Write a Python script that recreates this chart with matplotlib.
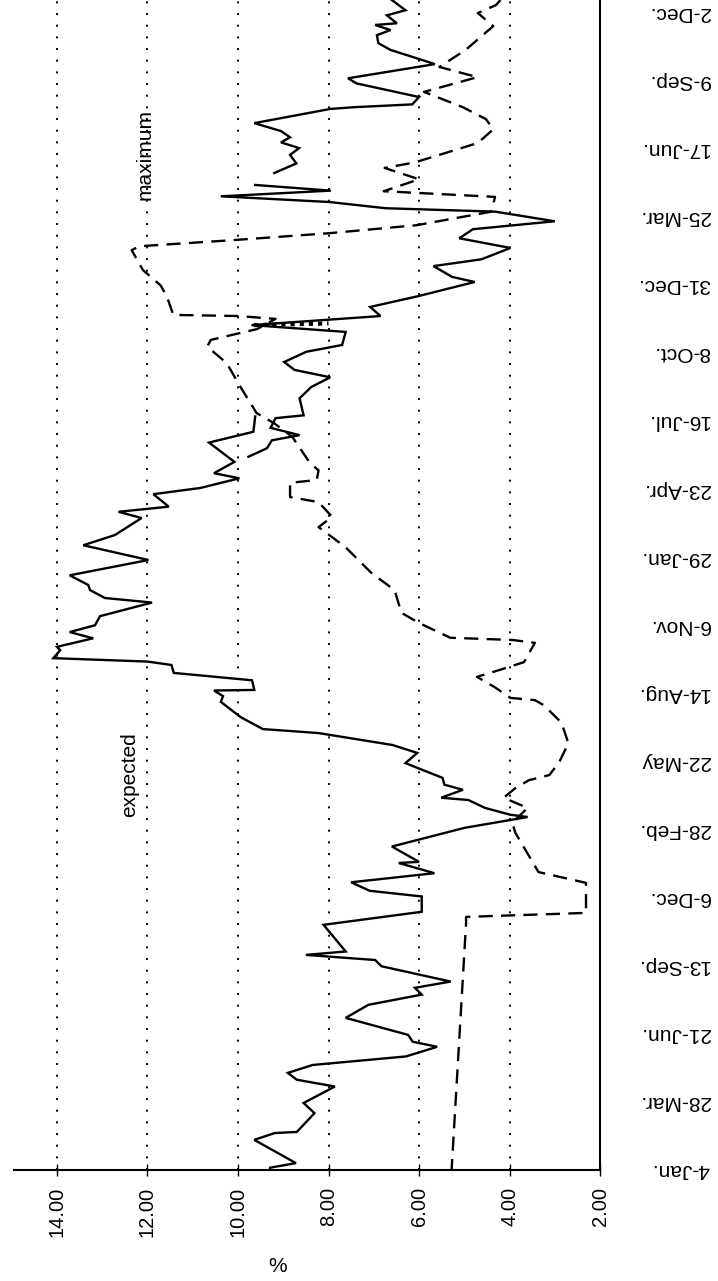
import matplotlib
matplotlib.use("Agg")
import matplotlib.pyplot as plt

plt.rcParams['font.family'] = ['Liberation Sans', 'DejaVu Sans']

# weeks from 4-Jan, one label every 12 weeks
week_ticks = list(range(0, 205, 12))
date_labels = ["4-Jan.", "28-Mar.", "21-Jun.", "13-Sep.", "6-Dec.", "28-Feb.",
               "22-May", "14-Aug.", "6-Nov.", "29-Jan.", "23-Apr.", "16-Jul.",
               "8-Oct.", "31-Dec.", "25-Mar.", "17-Jun.", "9-Sep.", "2-Dec."]
pct_ticks = [14, 12, 10, 8, 6, 4, 2]

# solid line, first stretch
solid_b_wk = [132.8, 130.1, 128.2, 124.8, 122.8, 121.9, 120.2, 119.1, 116.9, 116.0,
              114.9, 111.9, 110.1, 107.5, 104.8, 103.1, 102.2, 100.8, 100.0, 97.6,
              96.0, 94.8, 93.7, 92.2, 91.6, 90.2, 89.6, 89.0, 87.6, 86.3,
              84.6, 84.5, 83.5, 82.5, 79.8, 77.7, 77.0, 74.9, 73.5, 71.7,
              69.1, 67.9, 67.0, 65.6, 65.2, 63.8, 62.6, 62.2, 60.3, 57.0,
              54.3, 54.1, 52.3, 50.7, 49.2, 48.2, 45.5, 43.2, 38.5, 37.9,
              37.0, 35.9, 33.2, 32.1, 30.9, 29.1, 26.8, 23.8, 22.6, 21.7,
              20.0, 18.5, 17.1, 15.9, 14.7, 11.8, 10.0, 6.7, 6.5, 5.3,
              1.2, 0.4, 0.0]
solid_b_val = [9.62, 9.66, 10.64, 10.08, 10.53, 9.97, 10.83, 11.87, 11.53, 12.64,
               12.13, 12.72, 13.42, 11.98, 13.72, 13.31, 13.27, 12.94, 11.90, 13.05,
               13.16, 13.72, 13.20, 14.00, 13.93, 14.08, 12.00, 11.47, 11.42, 9.69,
               9.64, 10.53, 10.33, 10.38, 9.94, 9.45, 8.22, 6.59, 6.04, 6.30,
               5.48, 5.44, 5.03, 5.51, 4.91, 4.54, 3.98, 3.60, 4.99, 6.60,
               6.00, 6.45, 5.66, 7.50, 7.09, 5.94, 5.94, 8.11, 7.62, 8.50,
               6.97, 6.83, 5.30, 6.09, 5.94, 7.12, 7.62, 6.24, 6.14, 5.60,
               6.29, 8.35, 8.90, 8.70, 7.86, 8.55, 8.31, 8.70, 9.19, 9.64,
               8.72, 9.29, 9.30]

# solid line, second stretch
solid_a_wk = [173.6, 172.6, 171.6, 170.6, 169.5, 168.9, 167.2, 165.8, 164.2, 162.5,
              160.5, 159.3, 157.4, 156.5, 154.0, 152.1, 150.5, 148.9, 147.7, 145.4,
              144.2, 142.4, 141.0, 139.7, 138.0, 136.0, 133.0, 132.5, 130.8, 129.5,
              128.6, 127.2, 125.7]
solid_a_val = [9.62, 7.95, 10.38, 7.99, 6.74, 4.32, 3.00, 4.81, 5.11, 3.98,
               4.62, 5.68, 5.27, 4.77, 6.02, 7.08, 6.85, 9.70, 7.62, 7.70,
               8.49, 8.98, 8.75, 7.96, 8.38, 8.64, 8.55, 9.17, 9.28, 8.64,
               9.25, 9.36, 9.77]

# solid line, last stretch
solid_c_wk = [206.2, 204.4, 203.5, 202.1, 201.8, 200.9, 200.0, 198.6, 197.4, 195.8,
              194.9, 192.4, 191.5, 189.1, 187.8, 187.3, 187.0, 184.5, 183.1, 182.0,
              181.1, 180.1, 178.9, 177.4, 175.7]
solid_c_val = [6.60, 6.30, 6.71, 6.49, 6.97, 6.63, 6.93, 6.90, 6.63, 6.00,
               5.65, 7.57, 7.38, 6.00, 6.15, 7.45, 7.96, 9.64, 9.05, 8.85,
               9.05, 8.65, 8.85, 8.71, 9.20]

# dashed line
dash_wk = [206.2, 205.3, 203.9, 201.6, 199.6, 197.4, 194.4, 192.6, 190.0, 187.3,
           185.2, 183.4, 181.0, 177.6, 176.6, 174.6, 172.5, 171.5, 168.9, 166.5,
           165.1, 163.9, 162.8, 162.1, 158.6, 155.9, 153.9, 150.7, 150.5, 150.0,
           148.2, 146.3, 145.1, 142.2, 137.8, 133.4, 131.6, 129.2, 124.6, 123.3,
           121.6, 121.1, 118.6, 117.7, 115.1, 113.3, 109.8, 105.2, 102.2, 98.2,
           96.4, 93.8, 93.4, 92.9, 89.5, 88.1, 86.9, 85.1, 83.2, 82.8,
           81.9, 78.8, 75.2, 71.9, 69.6, 68.7, 67.3, 65.6, 63.8, 61.2,
           59.4, 52.5, 50.6, 45.3, 44.6, 43.5, 0.0]
dash_val = [4.20, 4.30, 4.70, 4.36, 4.65, 4.97, 5.55, 4.71, 5.89, 5.03,
            4.52, 4.36, 4.70, 6.08, 6.76, 6.00, 6.78, 4.32, 4.40, 6.06,
            7.98, 10.07, 12.18, 12.35, 12.10, 11.71, 11.57, 11.43, 10.00, 9.17,
            9.58, 10.60, 10.68, 10.25, 9.93, 9.59, 9.20, 8.80, 8.41, 8.22,
            8.26, 8.85, 8.85, 8.22, 7.92, 8.22, 7.63, 7.05, 6.54, 6.39,
            6.00, 5.31, 3.93, 3.44, 3.68, 4.23, 4.72, 4.33, 3.98, 3.44,
            3.24, 2.85, 2.70, 2.90, 3.12, 3.57, 3.87, 4.13, 3.60, 3.94,
            3.87, 3.36, 2.31, 2.31, 4.96, 4.96, 5.28]

# short thick dotted piece near 8-Oct
dot_wk = [148.9, 149.2]
dot_val = [9.65, 8.00]

fig = plt.figure(figsize=(7.18, 12.81), dpi=100)
ax = fig.add_axes([0.0195, 0.0867, 0.8162, 0.9133])

for v, w in [(solid_b_val, solid_b_wk), (solid_a_val, solid_a_wk), (solid_c_val, solid_c_wk)]:
    ax.plot(v, w, color="black", lw=1.7, solid_joinstyle="miter")
ax.plot(dash_val, dash_wk, color="black", lw=1.7, linestyle=(0, (6, 3.5)))
ax.plot(dot_val, dot_wk, color="black", lw=3, linestyle=(0, (1, 1.2)))

ax.set_xlim(14.95, 2)
ax.set_ylim(0, 206.2)

ax.set_xticks(pct_ticks)
ax.set_xticklabels([f"{t:.2f}" for t in pct_ticks], rotation=90)
ax.tick_params(axis="x", direction="inout", length=8, width=1, pad=8, labelsize=14.5)
ax.xaxis.grid(True, color="black", linestyle=(0, (1, 5)), linewidth=1.4)

ax.yaxis.tick_right()
ax.set_yticks(week_ticks)
ax.set_yticklabels(date_labels, rotation=180, ha="right", va="center")
ax.tick_params(axis="y", length=0, pad=79, labelsize=15)

ax.spines["left"].set_visible(False)
ax.spines["top"].set_visible(False)
ax.spines["right"].set_linewidth(1.5)
ax.spines["bottom"].set_linewidth(1.5)

ax.text(12.4, 69.6, "expected", rotation=90, ha="center", va="center", fontsize=15)
ax.text(12.05, 178.9, "maximum", rotation=90, ha="center", va="center", fontsize=15)
fig.text(278 / 718, 1 - 1267 / 1281, "%", ha="center", va="center", fontsize=15)

fig.savefig("out.png", dpi=100)
